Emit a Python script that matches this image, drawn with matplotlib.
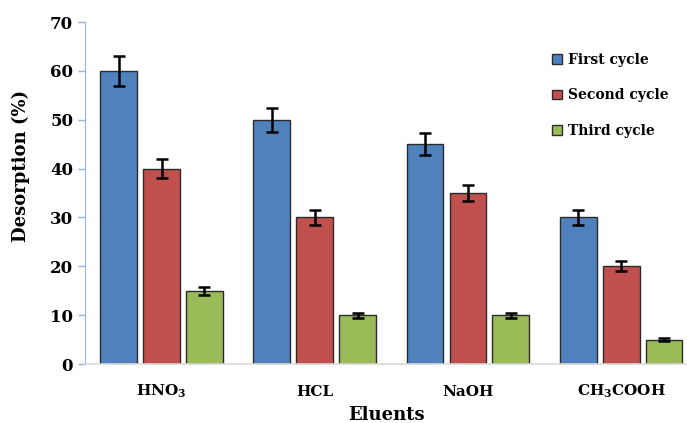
import matplotlib
matplotlib.use('Agg')
import matplotlib.pyplot as plt
import numpy as np

# Data
eluents = ['HNO$_3$', 'HCL', 'NaOH', 'CH$_3$COOH']
first_cycle = [60, 50, 45, 30]
second_cycle = [40, 30, 35, 20]
third_cycle = [15, 10, 10, 5]
first_err = [3.0, 2.5, 2.2, 1.5]
second_err = [2.0, 1.5, 1.7, 1.0]
third_err = [0.8, 0.5, 0.5, 0.25]
series_names = ['First cycle', 'Second cycle', 'Third cycle']

plt.rcParams['font.family'] = 'DejaVu Serif'
plt.rcParams['font.weight'] = 'bold'
plt.rcParams['mathtext.fontset'] = 'custom'
plt.rcParams['mathtext.rm'] = 'DejaVu Serif:bold'
plt.rcParams['mathtext.it'] = 'DejaVu Serif:bold'
plt.rcParams['mathtext.default'] = 'rm'

fig = plt.figure(figsize=(6.87, 4.23), dpi=100)
ax = fig.add_axes([85 / 687, 59 / 423, 602 / 687, 342 / 423])

x = np.arange(len(eluents))
width = 0.24
offset = 0.28
colors = ['#4F81BD', '#C0504D', '#9BBB59']
values = [first_cycle, second_cycle, third_cycle]
errors = [first_err, second_err, third_err]

for i in range(3):
    ax.bar(x + (i - 1) * offset, values[i], width, color=colors[i],
           edgecolor='#2b2b2b', linewidth=1.0, label=series_names[i],
           yerr=errors[i], error_kw=dict(ecolor='black', elinewidth=1.8,
                                          capsize=4, capthick=1.8))

ax.set_xlim(-0.5, 3.43)
ax.set_ylim(0, 70)
ax.set_yticks(range(0, 71, 10))
ax.set_xticks(x)
ax.set_xticklabels(eluents, fontsize=11)
for lbl in ax.get_xticklabels():
    lbl.set_va('baseline')
ax.tick_params(axis='y', labelsize=12, colors='#8EB4E3', length=5, width=1, labelcolor='black')
ax.tick_params(axis='x', length=0, pad=23)

for side in ['top', 'right']:
    ax.spines[side].set_visible(False)
ax.spines['left'].set_color('#8EB4E3')
ax.spines['bottom'].set_color('#D9D9D9')
ax.spines['bottom'].set_linewidth(1.2)

ax.set_ylabel('Desorption (%)', fontsize=13, fontweight='bold')
ax.yaxis.set_label_coords(-0.092, 0.58)
ax.set_xlabel('Eluents', fontsize=13, fontweight='bold', labelpad=4)

ax.legend(loc='upper left', bbox_to_anchor=(545 / 687, 1 - 46 / 423),
          bbox_transform=fig.transFigure, frameon=False, fontsize=10,
          handlelength=0.7, handleheight=0.7, handletextpad=0.45,
          labelspacing=1.55, borderpad=0)

fig.savefig('out.png', dpi=100)
